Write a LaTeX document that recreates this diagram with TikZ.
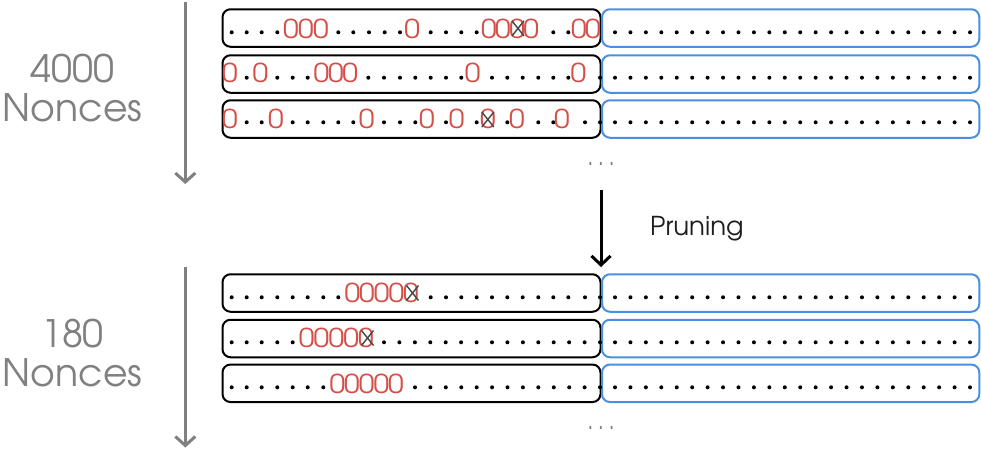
\documentclass[tikz,border=0pt]{standalone}
\usepackage{fontspec}
\setmainfont{TeX Gyre Adventor}
\usetikzlibrary{arrows.meta}
\definecolor{zred}{RGB}{214,78,72}
\definecolor{bblue}{RGB}{74,144,226}
\definecolor{lgray}{RGB}{128,128,128}
\definecolor{xgray}{RGB}{70,70,70}
\newcommand\dotrow[2]{\foreach \xx in {#2} {\fill (\xx,#1) circle[radius=2pt];}}
\newcommand\zerorow[3]{\foreach \xx [count=\ii] in {#3} {\node[zero] (#1-\ii) at (\xx,#2) {0};}}
\newcommand\crossat[2]{\draw[crossmark,shift={(#1,#2)}] (-6,-7.5) -- (6,7.5) (-6,7.5) -- (6,-7.5);}
\begin{document}
\begin{tikzpicture}[x=1pt,y=-1pt,
  blkbox/.style={draw=black, line width=2pt, rounded corners=8pt, minimum width=378pt, minimum height=37.5pt, inner sep=0pt},
  bluebox/.style={draw=bblue, line width=2pt, rounded corners=8pt, minimum width=377.3pt, minimum height=37.5pt, inner sep=0pt},
  zero/.style={text=zred, font=\fontsize{26}{26}\selectfont, inner sep=0pt, xscale=1.08},
  crossmark/.style={draw=xgray, line width=1.4pt},
  grayarrow/.style={draw=lgray, line width=3pt, -{Straight Barb[length=9pt,width=20pt]}},
  prunearrow/.style={draw=black, line width=3pt, -{Straight Barb[length=9pt,width=19pt]}},
  biglabel/.style={text=lgray, font=\fontsize{37.8}{38.7}\selectfont, align=center, inner sep=0pt},
  ellipsis/.style={text=lgray, font=\fontsize{24}{24}\selectfont, inner sep=0pt}]
\useasboundingbox (0,0) rectangle (981,450);

% boxes
\foreach \yy/\nm in {28/t1,74/t2,119/t3,293/b1,338.5/b2,383.3/b3} {
  \node[blkbox] (\nm k) at (411.5,\yy) {};
  \node[bluebox] (\nm u) at (790.65,\yy) {};
}

% blue-box dots
\foreach \yy in {32.3,77.7,122.3,297.3,342.3,387.3} {\dotrow{\yy}{615,630.435,...,971}}

% top row 1
\dotrow{32.3}{231.7,246.7,261.7,277.3,338.3,353.3,369,384.7,400,430.7,446,461.3,476.7,553.3,568.3}
\zerorow{za}{28.7}{290.8,305.8,320.8,412.2,488.8,502.9,517.1,531.2,578.8,593}
\crossat{518}{28.4}

% top row 2
\dotrow{77.7}{246.7,277.3,292.7,307.7,368.3,384,400,415.3,430.7,446,461.3,492,507.3,522.7,538.3,553.3,568.3,600}
\zerorow{zb}{73.3}{230,260.5,321.5,335.8,350.2,472.7,578.3}

% top row 3
\dotrow{122.3}{246.7,261.7,292.7,307.7,323.3,338.3,353.3,384,400,415.3,446,476.7,507.3,538.3,553.3,585,600}
\zerorow{zc}{119.2}{230,276,366.7,427,456.7,487.8,517,562}
\crossat{487.8}{119.5}

% bottom row 1
\dotrow{297.3}{231.7,246.7,261.7,277.3,292.7,307.7,323.3,338.3,430.7,446,461.3,476.7,492,507.3,522.7,538.3,553.3,568.3,585,600}
\zerorow{zd}{293}{352.3,367,381.7,396.3,411}
\crossat{412.5}{293}

% bottom row 2
\dotrow{342.3}{231.7,246.7,261.7,277.3,292.7,384,399.4,414.9,430.3,445.7,461.1,476.6,492,507.4,522.9,538.3,553.7,569.1,584.6,600}
\zerorow{ze}{338.3}{306.7,321.5,336.3,351.1,365.9}
\crossat{367.5}{338}

% bottom row 3
\dotrow{387.3}{231.7,246.7,261.7,277.3,292.7,307.7,323.3,415,430.4,445.8,461.3,476.7,492.1,507.5,522.9,538.3,553.8,569.2,584.6,600}
\zerorow{zf}{384.2}{337.3,352,366.7,381.3,396}

% ellipses
\node[ellipsis] (ell1) at (601,164) {.\kern4pt.\kern4pt.};
\node[ellipsis] (ell2) at (601,428) {.\kern4pt.\kern4pt.};

% labels
\node[biglabel] (lbl1) at (72.5,88.3) {4000\\Nonces};
\node[biglabel] (lbl2) at (72.5,353.3) {180\\Nonces};

% gray arrows
\coordinate (ga1s) at (185.3,2);
\coordinate (ga1e) at (185.3,184);
\coordinate (ga2s) at (185.3,267);
\coordinate (ga2e) at (185.3,447.5);
\draw[grayarrow] (ga1s) -- (ga1e);
\draw[grayarrow] (ga2s) -- (ga2e);

% pruning arrow
\coordinate (prs) at (601,190);
\coordinate (pre) at (601,267);
\draw[prunearrow] (prs) -- (pre);
\node[anchor=base west, font=\fontsize{26}{26}\selectfont, inner sep=0pt, text={rgb,255:red,30;green,30;blue,30}] (prune) at (650,235.3) {Pruning};
\end{tikzpicture}
\end{document}
